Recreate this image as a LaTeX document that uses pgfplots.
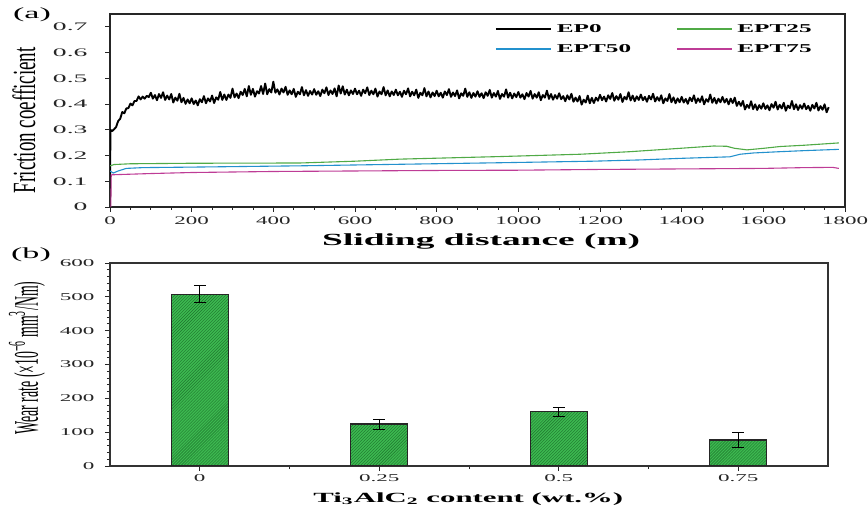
\documentclass[border=0pt]{standalone}
\usepackage{fontspec}
\setmainfont{Liberation Serif}
\usepackage{pgfplots}
\pgfplotsset{compat=1.18}
\usetikzlibrary{patterns}
\definecolor{cgreen}{RGB}{80,170,70}
\definecolor{cblue}{RGB}{35,145,205}
\definecolor{cmag}{RGB}{190,60,150}
\definecolor{barfill}{RGB}{60,185,80}
\definecolor{hatch}{RGB}{30,115,45}
\newcommand{\sx}[2]{\scalebox{#1}[1]{#2}}
\newcommand{\sy}[2]{\scalebox{1}[#1]{#2}}
\begin{document}
\begin{tikzpicture}
\useasboundingbox (0,0) rectangle (868bp,506bp);
\node[font=\fontsize{15.5bp}{17bp}\selectfont, anchor=center] at (32bp,491bp) {\sx{2.2}{(a)}};
\node[font=\fontsize{15.5bp}{17bp}\selectfont, anchor=center] at (31bp,251bp) {\sx{2.2}{(b)}};
\begin{axis}[
  at={(110bp,299bp)}, anchor=south west,
  width=735bp, height=193bp, scale only axis,
  xmin=0, xmax=1800, ymin=0, ymax=0.75,
  xtick={0,200,400,600,800,1000,1200,1400,1600,1800}, minor x tick num=3,
  ytick={0,0.1,0.2,0.3,0.4,0.5,0.6,0.7},
  tick align=outside, xtick pos=bottom, ytick pos=left,
  major tick length=5bp, minor tick length=3bp,
  tick style={black!85, line width=0.8bp},
  axis line style={black!85, line width=1.3bp},
  /pgf/number format/assume math mode=true,
  /pgf/number format/1000 sep={},
  /pgf/number format/fixed, /pgf/number format/precision=1,
  xticklabel={\sx{2.0}{\pgfmathprintnumber{\tick}}},
  yticklabel={\sx{2.4}{\pgfmathprintnumber{\tick}}},
  ticklabel style={font=\fontsize{11.5bp}{13bp}\selectfont, text=black!85},
  yticklabel style={xshift=-14bp},
  xticklabel style={yshift=-1bp},
  xlabel={\sx{2.2}{\textbf{Sliding distance (m)}}},
  xlabel style={font=\fontsize{17bp}{19bp}\selectfont, at={(axis description cs:0.505,-0.202)}, anchor=base},
  ylabel={\sy{1.7}{Friction coefficient}},
  ylabel style={font=\fontsize{19bp}{21bp}\selectfont, at={(axis description cs:-0.117,0.45)}, anchor=center},
  legend columns=2, legend cell align=left,
  legend image code/.code={\draw[#1, line width=1.5bp] (0bp,0bp) -- (55bp,0bp); \path (60bp,0bp);},
  legend style={draw=none, fill=none, at={(axis description cs:0.5238,0.974)}, anchor=north west,
    inner sep=0pt, row sep=0bp, font=\fontsize{12bp}{14bp}\selectfont,
    nodes={inner sep=0pt, minimum height=20bp},
    /tikz/every even column/.append style={column sep=45bp}},
]
\addplot[black, line width=1.9bp, line join=round] coordinates {
(0,0)(1,0.300)(5,0.295)(10,0.302)(15,0.311)(20,0.334)(25,0.343)(30,0.369)(35,0.364)(40,0.383)(45,0.384)
(50,0.402)(55,0.395)(60,0.412)(65,0.412)(70,0.430)(75,0.418)(80,0.429)(85,0.421)(90,0.432)(95,0.427)
(100,0.444)(105,0.421)(110,0.435)(115,0.415)(120,0.439)(125,0.424)(130,0.446)(135,0.416)(140,0.433)(145,0.418)
(150,0.439)(155,0.406)(160,0.425)(165,0.413)(170,0.440)(175,0.407)(180,0.424)(185,0.401)(190,0.418)(195,0.403)
(200,0.422)(205,0.400)(210,0.414)(215,0.395)(220,0.419)(225,0.407)(230,0.431)(235,0.403)(240,0.422)(245,0.410)
(250,0.433)(255,0.404)(260,0.426)(265,0.417)(270,0.447)(275,0.416)(280,0.437)(285,0.416)(290,0.437)(295,0.424)
(300,0.460)(305,0.426)(310,0.441)(315,0.423)(320,0.448)(325,0.435)(330,0.459)(335,0.430)(340,0.470)(345,0.436)
(350,0.459)(355,0.429)(360,0.450)(365,0.441)(370,0.470)(375,0.439)(380,0.480)(385,0.438)(390,0.458)(395,0.445)
(400,0.487)(405,0.444)(410,0.457)(415,0.437)(420,0.460)(425,0.445)(430,0.467)(435,0.436)(440,0.453)(445,0.438)
(450,0.459)(455,0.428)(460,0.448)(465,0.438)(470,0.466)(475,0.434)(480,0.454)(485,0.432)(490,0.451)(495,0.437)
(500,0.458)(505,0.436)(510,0.450)(515,0.431)(520,0.456)(525,0.442)(530,0.465)(535,0.435)(540,0.453)(545,0.439)
(550,0.461)(555,0.430)(560,0.472)(565,0.441)(570,0.469)(575,0.437)(580,0.456)(585,0.434)(590,0.453)(595,0.439)
(600,0.460)(605,0.438)(610,0.452)(615,0.432)(620,0.456)(625,0.442)(630,0.465)(635,0.435)(640,0.452)(645,0.438)
(650,0.460)(655,0.429)(660,0.449)(665,0.438)(670,0.466)(675,0.434)(680,0.453)(685,0.430)(690,0.449)(695,0.435)
(700,0.456)(705,0.434)(710,0.448)(715,0.428)(720,0.452)(725,0.438)(730,0.461)(735,0.430)(740,0.448)(745,0.434)
(750,0.456)(755,0.424)(760,0.444)(765,0.434)(770,0.462)(775,0.430)(780,0.449)(785,0.426)(790,0.445)(795,0.431)
(800,0.452)(805,0.430)(810,0.444)(815,0.425)(820,0.449)(825,0.435)(830,0.458)(835,0.428)(840,0.445)(845,0.431)
(850,0.453)(855,0.422)(860,0.442)(865,0.432)(870,0.460)(875,0.428)(880,0.446)(885,0.424)(890,0.443)(895,0.429)
(900,0.450)(905,0.428)(910,0.442)(915,0.423)(920,0.446)(925,0.432)(930,0.455)(935,0.425)(940,0.443)(945,0.429)
(950,0.451)(955,0.420)(960,0.439)(965,0.429)(970,0.457)(975,0.425)(980,0.444)(985,0.422)(990,0.441)(995,0.427)
(1000,0.447)(1005,0.425)(1010,0.438)(1015,0.419)(1020,0.443)(1025,0.429)(1030,0.451)(1035,0.421)(1040,0.439)(1045,0.425)
(1050,0.446)(1055,0.415)(1060,0.435)(1065,0.425)(1070,0.452)(1075,0.420)(1080,0.439)(1085,0.417)(1090,0.435)(1095,0.421)
(1100,0.442)(1105,0.419)(1110,0.431)(1115,0.411)(1120,0.434)(1125,0.418)(1130,0.440)(1135,0.409)(1140,0.425)(1145,0.410)
(1150,0.431)(1155,0.398)(1160,0.417)(1165,0.406)(1170,0.433)(1175,0.403)(1180,0.424)(1185,0.404)(1190,0.425)(1195,0.413)
(1200,0.436)(1205,0.415)(1210,0.429)(1215,0.410)(1220,0.434)(1225,0.420)(1230,0.443)(1235,0.413)(1240,0.431)(1245,0.417)
(1250,0.439)(1255,0.408)(1260,0.428)(1265,0.418)(1270,0.446)(1275,0.414)(1280,0.433)(1285,0.411)(1290,0.430)(1295,0.416)
(1300,0.437)(1305,0.415)(1310,0.428)(1315,0.409)(1320,0.432)(1325,0.418)(1330,0.440)(1335,0.410)(1340,0.427)(1345,0.413)
(1350,0.434)(1355,0.403)(1360,0.422)(1365,0.412)(1370,0.439)(1375,0.407)(1380,0.426)(1385,0.403)(1390,0.422)(1395,0.407)
(1400,0.428)(1405,0.406)(1410,0.420)(1415,0.401)(1420,0.425)(1425,0.411)(1430,0.434)(1435,0.404)(1440,0.422)(1445,0.408)
(1450,0.430)(1455,0.399)(1460,0.419)(1465,0.409)(1470,0.437)(1475,0.405)(1480,0.424)(1485,0.402)(1490,0.421)(1495,0.407)
(1500,0.428)(1505,0.406)(1510,0.420)(1515,0.399)(1520,0.421)(1525,0.404)(1530,0.425)(1535,0.393)(1540,0.409)(1545,0.393)
(1550,0.412)(1555,0.379)(1560,0.397)(1565,0.385)(1570,0.411)(1575,0.380)(1580,0.399)(1585,0.377)(1590,0.396)(1595,0.382)
(1600,0.403)(1605,0.381)(1610,0.395)(1615,0.376)(1620,0.400)(1625,0.386)(1630,0.409)(1635,0.379)(1640,0.397)(1645,0.383)
(1650,0.405)(1655,0.374)(1660,0.394)(1665,0.384)(1670,0.412)(1675,0.380)(1680,0.399)(1685,0.377)(1690,0.396)(1695,0.382)
(1700,0.402)(1705,0.380)(1710,0.393)(1715,0.374)(1720,0.397)(1725,0.383)(1730,0.405)(1735,0.375)(1740,0.392)(1745,0.378)
(1750,0.399)(1755,0.368)(1760,0.388)
};
\addlegendentry{\sx{2.1}{\textbf{EP0}}}
\addplot[cgreen, line width=1.1bp] coordinates {
(0,0.160)(10,0.165)(50,0.168)(200,0.170)(465,0.171)(600,0.178)(710,0.186)(955,0.196)(1151,0.205)
(1274,0.215)(1396,0.228)(1478,0.237)(1510,0.236)(1530,0.228)(1560,0.222)(1600,0.228)(1641,0.235)(1700,0.240)(1785,0.249)
};
\addlegendentry{\sx{2.1}{\textbf{EPT25}}}
\addplot[cblue, line width=1.1bp] coordinates {
(0,0.140)(8,0.132)(20,0.140)(40,0.150)(80,0.153)(200,0.155)(465,0.160)(710,0.166)(955,0.172)(1183,0.178)
(1300,0.183)(1396,0.189)(1518,0.195)(1543,0.205)(1576,0.210)(1641,0.215)(1700,0.219)(1785,0.224)
};
\addlegendentry{\sx{2.1}{\textbf{EPT50}}}
\addplot[cmag, line width=1.1bp] coordinates {
(2,0)(3,0.125)(20,0.126)(100,0.130)(200,0.134)(400,0.138)(600,0.140)(800,0.142)(1000,0.143)
(1200,0.146)(1400,0.148)(1600,0.150)(1700,0.153)(1770,0.154)(1785,0.150)
};
\addlegendentry{\sx{2.1}{\textbf{EPT75}}}
\end{axis}
\begin{axis}[
  at={(110bp,40bp)}, anchor=south west,
  width=718bp, height=203bp, scale only axis,
  xmin=-0.5, xmax=3.5, ymin=0, ymax=600,
  xtick={0,1,2,3}, minor xtick={0.5,1.5,2.5},
  xticklabels={\sx{2.2}{0},\sx{2.2}{0.25},\sx{2.2}{0.5},\sx{2.2}{0.75}},
  ytick={0,100,200,300,400,500,600}, minor y tick num=4,
  tick align=outside, xtick pos=bottom, ytick pos=left,
  major tick length=5bp, minor tick length=3bp,
  tick style={black!85, line width=0.8bp},
  axis line style={black!80, line width=1.3bp},
  /pgf/number format/assume math mode=true,
  yticklabel={\sx{2.2}{\pgfmathprintnumber{\tick}}},
  ticklabel style={font=\fontsize{10.5bp}{12bp}\selectfont, text=black!85},
  yticklabel style={xshift=-7bp},
  xlabel={\sx{2.2}{\textbf{Ti\textsubscript{3}AlC\textsubscript{2} content (wt.\%)}}},
  xlabel style={font=\fontsize{14bp}{16bp}\selectfont, at={(axis description cs:0.499,-0.181)}, anchor=base},
  ylabel={\sy{2.5}{Wear rate (×10\textsuperscript{−6} mm\textsuperscript{3}/Nm)}},
  ylabel style={font=\fontsize{13.8bp}{15bp}\selectfont, at={(axis description cs:-0.1156,0.532)}, anchor=center},
  ybar, bar width=57bp,
]
\addplot[draw=black!85, line width=1.2bp, fill=barfill,
  postaction={pattern=north east lines, pattern color=hatch},
  error bars/.cd, y dir=both, y explicit,
  error bar style={line width=0.8bp, black},
  error mark options={rotate=90, line width=0.8bp, black, mark size=6bp}]
  coordinates {(0,508) +- (0,25) (1,124) +- (0,15) (2,160) +- (0,12) (3,77) +- (0,21)};
\end{axis}
\end{tikzpicture}
\end{document}
